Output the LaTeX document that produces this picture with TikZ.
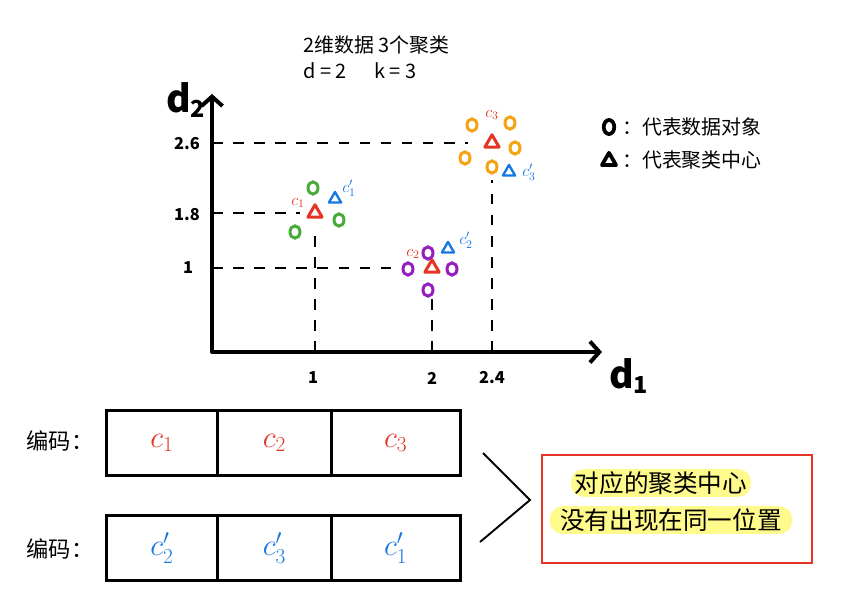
\RequirePackage{fix-cm}
\documentclass[tikz,border=0pt]{standalone}
\usepackage{fontspec}
\setmainfont{Noto Sans CJK SC}
\usetikzlibrary{arrows.meta,positioning,shapes.geometric}

\definecolor{hred}{RGB}{228,52,36}
\definecolor{hgreen}{RGB}{76,170,60}
\definecolor{hpurple}{RGB}{150,30,190}
\definecolor{horange}{RGB}{243,163,20}
\definecolor{hblue}{RGB}{22,118,226}
\definecolor{hyellow}{RGB}{255,250,140}

\begin{document}
\begin{tikzpicture}[x=0.03cm,y=-0.03cm,
  axis/.style={line width=3.4pt,line cap=round,line join=round,
    {Straight Barb[length=8pt,width=18pt]}-{Straight Barb[length=8pt,width=18pt]}},
  guide/.style={line width=1.6pt,dash pattern=on 9pt off 9pt},
  obj/.style={ellipse,draw,line width=2.6pt,minimum width=8.5pt,minimum height=10.5pt,inner sep=0pt},
  ctr/.style={regular polygon,regular polygon sides=3,draw=hred,line width=2.6pt,
    minimum size=14pt,inner sep=0pt,line join=round},
  ctrnew/.style={ctr,draw=hblue,line width=2pt,minimum size=12pt},
  tag/.style={font=\fontsize{14}{14}\selectfont,inner sep=0pt},
  tick/.style={font=\fontsize{14}{14}\selectfont\bfseries,inner sep=0pt},
  cell/.style={draw,line width=2.4pt,minimum height=56pt,outer sep=0pt,inner sep=0pt,
    font=\fontsize{26}{26}\selectfont},
  lbl/.style={font=\fontsize{19}{19}\selectfont,inner sep=0pt},
  hl/.style={fill=hyellow,rounded corners=11pt,inner ysep=2pt,font=\fontsize{21}{21}\selectfont}]
\useasboundingbox (0,0) rectangle (849,604);

% title
\node[anchor=west,inner sep=0pt,font=\fontsize{17}{17}\selectfont] (title) at (303,45) {2维数据 3个聚类};
\node[anchor=west,inner sep=0pt,font=\fontsize{17}{17}\selectfont] (params) at (303,71) {d = 2\hspace{1.4em}k = 3};

% axes
\coordinate (O) at (212,352);
\coordinate (ytop) at (212,94);
\coordinate (xend) at (602,352);
\draw[axis] (ytop) -- (O) -- (xend);
\node[font=\fontsize{32}{32}\selectfont\bfseries,inner sep=0pt] (d2) at (186,100) {d\textsubscript{\fontsize{20}{20}\selectfont 2}};
\node[font=\fontsize{32}{32}\selectfont\bfseries,inner sep=0pt] (d1) at (629,376) {d\textsubscript{\fontsize{20}{20}\selectfont 1}};

% cluster 1
\node[obj,draw=hgreen] (p11) at (313,188) {};
\node[obj,draw=hgreen] (p12) at (295,232) {};
\node[obj,draw=hgreen] (p13) at (339,220) {};
\node[ctr] (m1) at (315,213) {};
\node[tag,text=hred] (m1l) at (298,203) {$c_1$};
\node[ctrnew] (n1) at (335,199) {};
\node[tag,text=hblue] (n1l) at (349,188) {$c_1'$};

% cluster 2
\node[obj,draw=hpurple] (p21) at (428,253) {};
\node[obj,draw=hpurple] (p22) at (408,269) {};
\node[obj,draw=hpurple] (p23) at (452,269) {};
\node[obj,draw=hpurple] (p24) at (428,290) {};
\node[ctr] (m2) at (432,268) {};
\node[tag,text=hred] (m2l) at (413,254) {$c_2$};
\node[ctrnew] (n2) at (448,249) {};
\node[tag,text=hblue] (n2l) at (466,240) {$c_2'$};

% cluster 3
\node[obj,draw=horange] (p31) at (472,125) {};
\node[obj,draw=horange] (p32) at (510,123) {};
\node[obj,draw=horange] (p33) at (515,148) {};
\node[obj,draw=horange] (p34) at (465,158) {};
\node[obj,draw=horange] (p35) at (492,167) {};
\node[ctr] (m3) at (492,143) {};
\node[tag,text=hred] (m3l) at (492,115) {$c_3$};
\node[ctrnew] (n3) at (509,172) {};
\node[tag,text=hblue] (n3l) at (529,172) {$c_3'$};

% guides
\draw[guide] (O |- m3) -- ++(256,0);
\draw[guide] (O |- m1) -- ++(88,0);
\draw[guide] (O |- m2) -- ++(186,0);
\draw[guide] (m1 |- O) -- ++(0,-118);
\draw[guide] (m2 |- O) -- ++(0,-62);
\draw[guide] (m3 |- O) -- ++(0,-172);

\node[tick] (y26) at (187,144) {2.6};
\node[tick] (y18) at (187,215) {1.8};
\node[tick] (y1) at (188,268) {1};
\node[tick] (x1) at (313,378) {1};
\node[tick] (x2) at (432,378) {2};
\node[tick] (x24) at (492,378) {2.4};

% legend
\node[obj,draw=black,line width=3.2pt,minimum width=9pt,minimum height=12pt] (legO) at (609,127) {};
\node[anchor=west,inner sep=0pt,font=\fontsize{17}{17}\selectfont] (legOt) at (622,127) {：代表数据对象};
\node[ctr,draw=black,line width=3.2pt,minimum size=14pt] (legT) at (609,161) {};
\node[anchor=west,inner sep=0pt,font=\fontsize{17}{17}\selectfont] (legTt) at (622,160) {：代表聚类中心};

% codes
\node[lbl] (code1) at (60,441) {编码：};
\node[lbl] (code2) at (60,549) {编码：};
\node[cell,minimum width=95pt,text=hred] (a1) at (162,443) {$c_1$};
\node[cell,minimum width=97pt,text=hred,right=0pt of a1] (a2) {$c_2$};
\node[cell,minimum width=110pt,text=hred,right=0pt of a2] (a3) {$c_3$};
\node[cell,minimum width=95pt,text=hblue] (b1) at (162,548) {$c_2'$};
\node[cell,minimum width=97pt,text=hblue,right=0pt of b1] (b2) {$c_3'$};
\node[cell,minimum width=110pt,text=hblue,right=0pt of b2] (b3) {$c_1'$};

% note
\node[draw=hred,line width=1.6pt,minimum width=230pt,minimum height=92pt,inner sep=0pt] (note) at (677,509) {};
\coordinate (chevTop) at (483,453);
\coordinate (chevTip) at (530,500);
\coordinate (chevBot) at (480,542);
\draw[line width=1.6pt] (chevTop) -- (chevTip) -- (chevBot);
\node[hl] (hl1) at (661,483) {对应的聚类中心};
\node[hl,inner xsep=9pt] (hl2) at (671,520) {没有出现在同一位置};
\end{tikzpicture}
\end{document}
